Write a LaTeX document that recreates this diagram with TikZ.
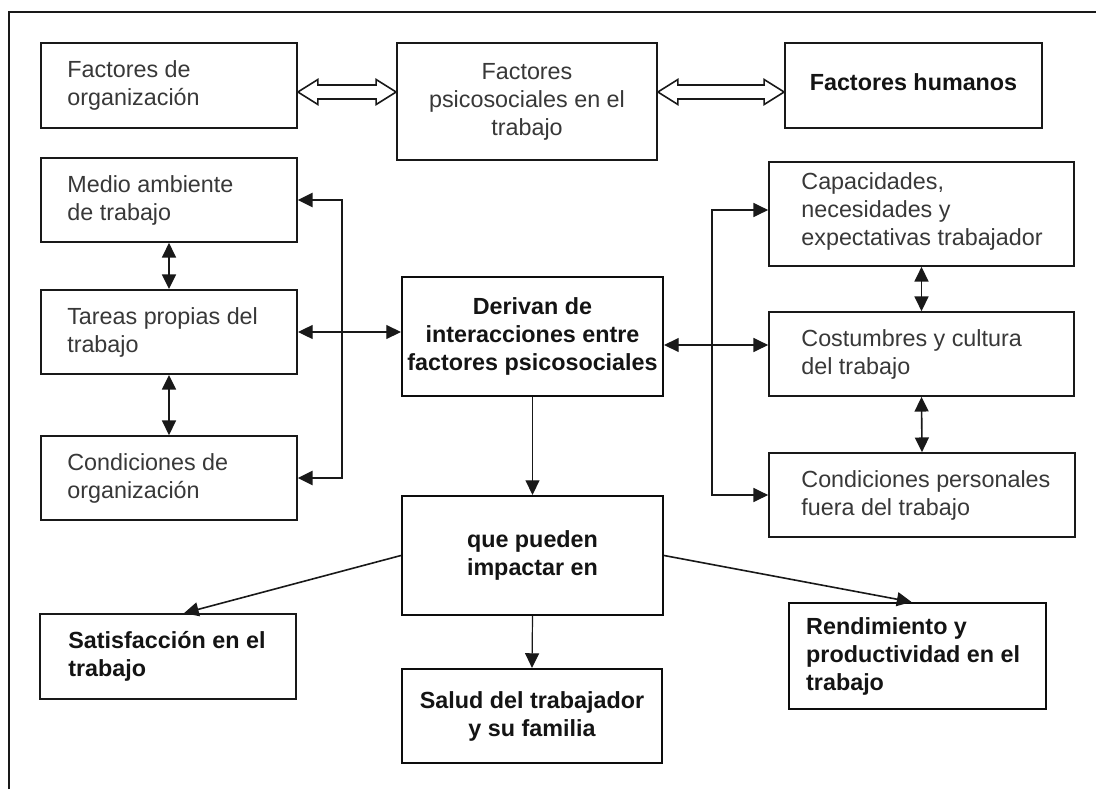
\documentclass[tikz,border=0pt]{standalone}
\usepackage{fontspec}
\setmainfont{Liberation Sans}
\usetikzlibrary{arrows.meta,calc,fit}
\begin{document}
\begin{tikzpicture}[x=0.75pt,y=-0.75pt,
  box/.style={draw=black!90, line width=1.3pt, inner sep=0pt},
  boldbox/.style={draw=black!95, line width=1.6pt, inner sep=0pt},
  txt/.style={text=black!78, font=\fontsize{17.5}{21}\selectfont, align=left, inner sep=0pt, anchor=west},
  btxtl/.style={text=black!92, font=\fontsize{17.5}{21}\selectfont\bfseries, align=left, inner sep=0pt, anchor=west},
  ctxt/.style={text=black!78, font=\fontsize{17.5}{21}\selectfont, align=center, inner sep=0pt},
  btxt/.style={text=black!92, font=\fontsize{17.5}{21}\selectfont\bfseries, align=center, inner sep=0pt},
  tipa/.tip={Triangle[length=11pt,width=10.5pt]},
  con/.style={line width=0.9pt, draw=black!90},
  both/.style={con, tipa-tipa},
  one/.style={con, -tipa},
  hollow/.style={draw=black!90, line width=1.2pt, fill=white, line join=miter}
]
\useasboundingbox (0,0) rectangle (1096,789);
\fill[white] (0,0) rectangle (1096,789);
% frame
\draw[line width=1.1pt, black!90] (9,789) -- (9,12) -- (1096,12);

% top row
\node[box, fit={(41,43)(297,128)}] (fo) {};
\node[txt] (tfo) at ($(fo.west)+(27,0)$) {Factores de\\organización};
\node[box, fit={(397,43)(657,160)}] (fp) {};
\node[ctxt] (tfp) at (fp.center) {Factores\\psicosociales en el\\trabajo};
\node[box, fit={(785,43)(1042,128)}] (fh) {};
\node[btxt] (tfh) at ($(fh.center)+(0,-3)$) {Factores humanos};

% left column
\node[box, fit={(41,158)(297,242)}] (ma) {};
\node[txt] (tma) at ($(ma.west)+(27,0)$) {Medio ambiente\\de trabajo};
\node[box, line width=1.5pt, fit={(41,290)(297,374)}] (tp) {};
\node[txt] (ttp) at ($(tp.west)+(27,0)$) {Tareas propias del\\trabajo};
\node[box, fit={(41,436)(297,520)}] (co) {};
\node[txt] (tco) at ($(co.west)+(27,0)$) {Condiciones de\\organización};

% center column
\node[boldbox, fit={(402,277)(663,396)}] (dv) {};
\node[btxt] (tdv) at (dv.center) {Derivan de\\interacciones entre\\factores psicosociales};
\node[boldbox, fit={(402,496)(663,615)}] (qp) {};
\node[btxt] (tqp) at (qp.center) {que pueden\\impactar en};
\node[boldbox, fit={(402,669)(662,763)}] (sa) {};
\node[btxt] (tsa) at (sa.center) {Salud del trabajador\\y su familia};

% right column
\node[box, fit={(769,162)(1074,266)}] (ca) {};
\node[txt] (tca) at ($(ca.west)+(33,-3)$) {Capacidades,\\necesidades y\\expectativas trabajador};
\node[box, fit={(769,312)(1074,396)}] (cu) {};
\node[txt] (tcu) at ($(cu.west)+(33,0)$) {Costumbres y cultura\\del trabajo};
\node[box, fit={(769,453)(1075,537)}] (cp) {};
\node[txt] (tcp) at ($(cp.west)+(33,0)$) {Condiciones personales\\fuera del trabajo};

% bottom outcomes
\node[box, fit={(40,614)(296,699)}] (st) {};
\node[btxtl] (tst) at ($(st.west)+(29,0)$) {Satisfacción en el\\trabajo};
\node[boldbox, fit={(789,603)(1046,709)}] (rd) {};
\node[btxtl] (trd) at ($(rd.west)+(18,0)$) {Rendimiento y\\productividad en el\\trabajo};

% helper coordinates
\coordinate (y92) at (0,92);
\coordinate (xL) at (342,0);
\coordinate (xR) at (712,0);
\coordinate (y345) at (0,345);
\coordinate (y210) at (0,210);

% hollow double arrows
\coordinate (a1) at (fo.east |- y92);
\coordinate (b1) at (fp.west |- y92);
\coordinate (a2) at (fp.east |- y92);
\coordinate (b2) at (fh.west |- y92);
\draw[hollow] (a1) -- ++(20,-12.5) -- ++(0,5.5) -- ($(b1)+(-20,-7)$) -- ++(0,-5.5) -- (b1)
  -- ++(-20,12.5) -- ++(0,-5.5) -- ($(a1)+(20,7)$) -- ++(0,5.5) -- cycle;
\draw[hollow] (a2) -- ++(20,-12.5) -- ++(0,5.5) -- ($(b2)+(-20,-7)$) -- ++(0,-5.5) -- (b2)
  -- ++(-20,12.5) -- ++(0,-5.5) -- ($(a2)+(20,7)$) -- ++(0,5.5) -- cycle;

% left column links
\draw[both, line width=1.2pt] (ma.south) -- (tp.north);
\draw[both, line width=1.2pt] (tp.south) -- (co.north);
\draw[both, line width=1.8pt] (ma.east) -- (ma.east -| xL) -- (co.east -| xL) -- (co.east);
\draw[both] (tp.east) -- (dv.west |- tp.east);

% right column links
\draw[both, line width=1.2pt] (ca.south) -- (cu.north);
\draw[both, line width=1.2pt] (cu.south) -- (cp.north);
\draw[both] (ca.west |- y210) -- (xR |- y210) -- (xR |- cp.west) -- (cp.west);
\draw[both] (dv.east |- y345) -- (cu.west |- y345);

% center flow
\draw[one] (dv.south) -- (qp.north);
\draw[one] (qp.south) -- (sa.north);
\draw[one, line width=1.2pt] (qp.west) -- ($(st.north)+(16,0)$);
\draw[one, line width=1.2pt] (qp.east) -- ($(rd.north)+(-6,0)$);
\end{tikzpicture}
\end{document}
